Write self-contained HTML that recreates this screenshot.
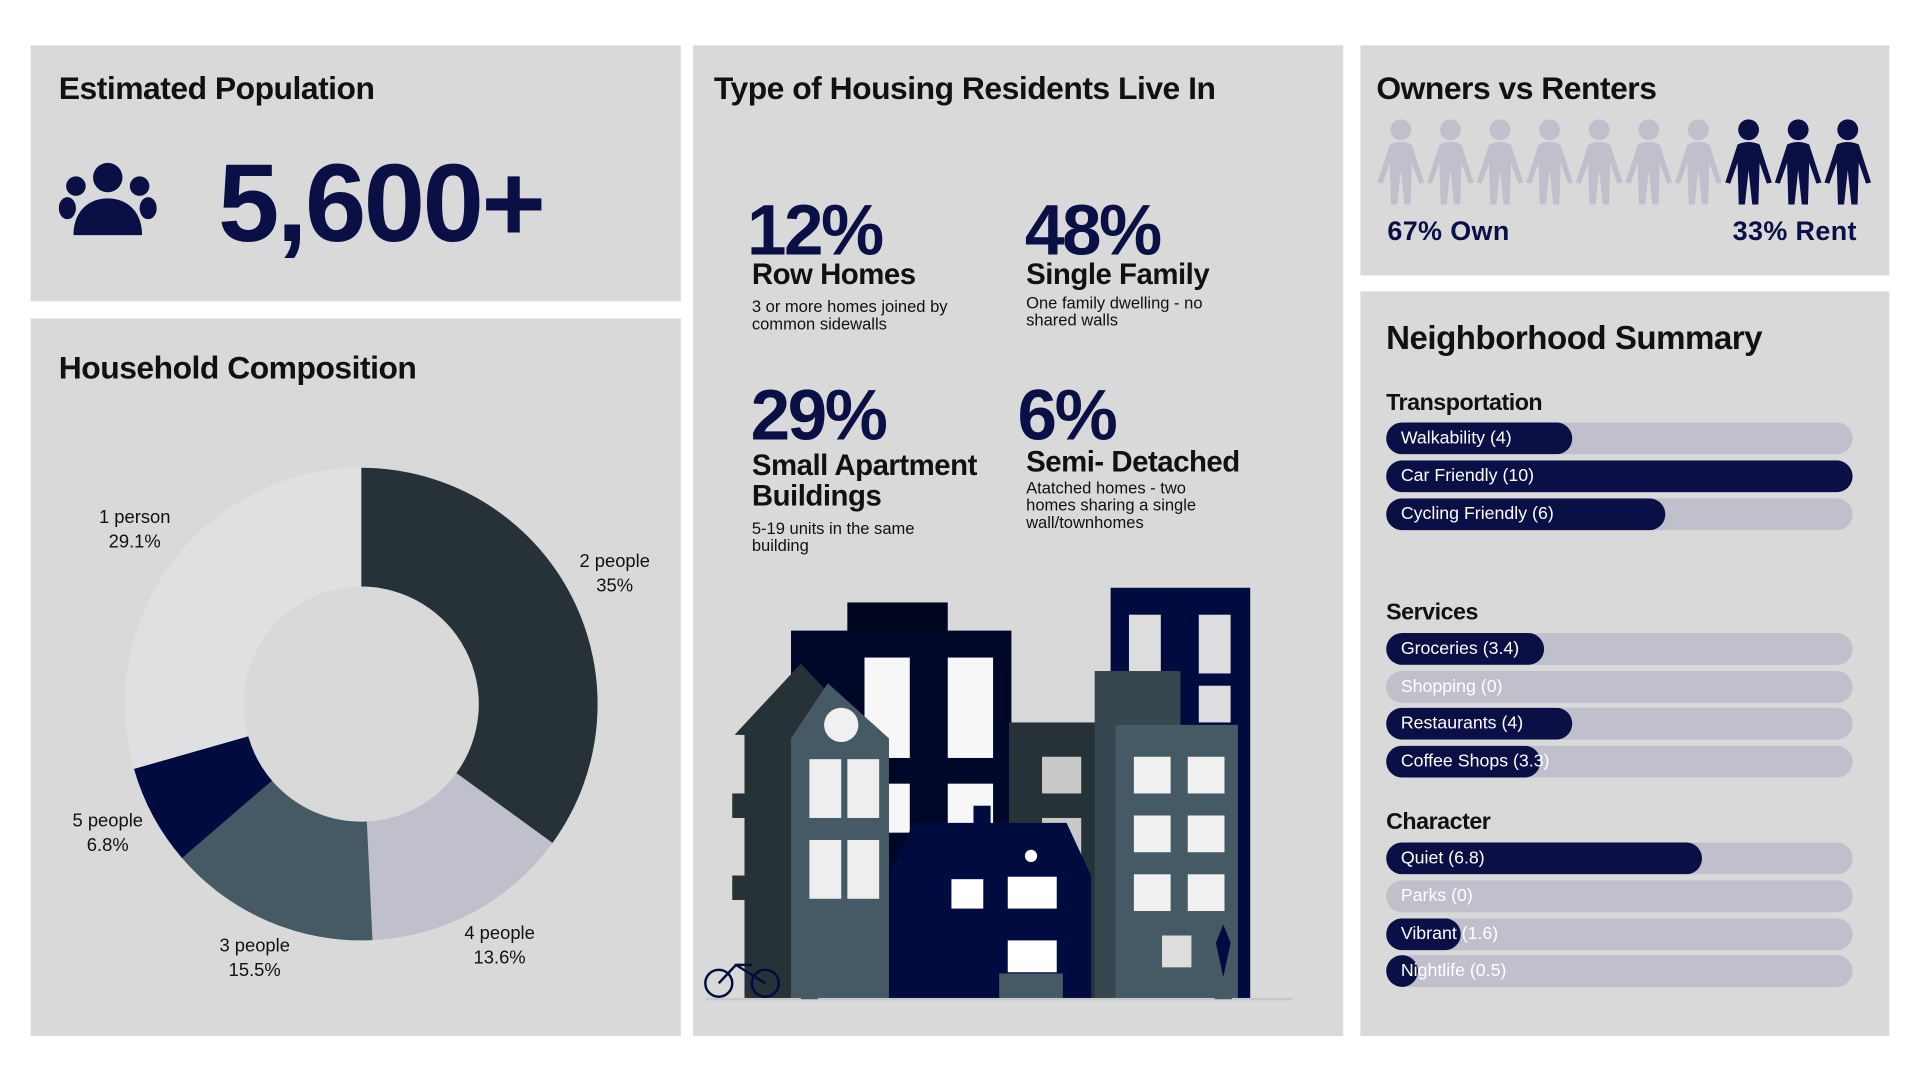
<!DOCTYPE html>
<html><head><meta charset="utf-8">
<style>
html,body{margin:0;padding:0;background:#fff;width:1920px;height:1080px;overflow:hidden}
#w{position:absolute;left:0;top:0;width:1568px;height:882px;transform:scale(1.22449);transform-origin:0 0;font-family:"Liberation Sans",sans-serif}
.p{position:absolute;background:#d9d9d9}
.t{position:absolute;font-weight:bold;color:#111;white-space:nowrap;letter-spacing:-0.4px}
.n{position:absolute;font-weight:bold;color:#0a0f45;white-space:nowrap;letter-spacing:-2px}
.s{position:absolute;font-size:13.5px;line-height:14px;color:#111}
.bar{position:absolute;left:1132px;width:381px;height:26px;border-radius:13px;background:#c0bfcc;overflow:hidden}
.bar i{position:absolute;left:0;top:0;bottom:0;background:#0a0f45;border-radius:13px}
.bar span{position:absolute;left:12px;top:5px;font-size:14.5px;color:#fff;white-space:nowrap}
.lbl{position:absolute;font-size:15px;color:#111;text-align:center;line-height:20px}
</style></head><body><div id="w">
<div class="p" style="left:25px;top:37px;width:531px;height:209px"></div>
<div class="p" style="left:25px;top:260px;width:531px;height:586px"></div>
<div class="p" style="left:566px;top:37px;width:531px;height:809px"></div>
<div class="p" style="left:1111px;top:37px;width:432px;height:188px"></div>
<div class="p" style="left:1111px;top:238px;width:432px;height:608px"></div>

<div class="t" style="left:48px;top:57px;font-size:26px">Estimated Population</div>
<svg style="position:absolute;left:48px;top:132px" width="80" height="64" viewBox="0 0 80 64">
<g fill="#0a0f45"><circle cx="40" cy="13" r="12"/><circle cx="14" cy="20" r="8"/><circle cx="66" cy="20" r="8"/>
<ellipse cx="7" cy="38" rx="7" ry="9"/><ellipse cx="73" cy="38" rx="7" ry="9"/>
<path d="M12 60 C12 40 25 30 40 30 C55 30 68 40 68 60 Z"/></g></svg>
<div class="n" style="left:178px;top:116px;font-size:90px">5,600+</div>

<div class="t" style="left:48px;top:285px;font-size:26px">Household Composition</div>
<svg style="position:absolute;left:0;top:0" width="560" height="850">
<g transform="translate(295,575)">
<path d="M0,-193 A193,193 0 0 1 156.2,113.4 L77.7,56.4 A96,96 0 0 0 0,-96Z" fill="#263238"/>
<path d="M156.2,113.4 A193,193 0 0 1 9.2,192.8 L4.6,95.9 A96,96 0 0 0 77.7,56.4Z" fill="#c0bfcc"/>
<path d="M9.2,192.8 A193,193 0 0 1 -146.3,125.8 L-72.8,62.6 A96,96 0 0 0 4.6,95.9Z" fill="#455a64"/>
<path d="M-146.3,125.8 A193,193 0 0 1 -185.6,52.9 L-92.3,26.3 A96,96 0 0 0 -72.8,62.6Z" fill="#000b3f"/>
<path d="M-185.6,52.9 A193,193 0 0 1 0,-193 L0,-96 A96,96 0 0 0 -92.3,26.3Z" fill="#e0e0e3"/>
</g></svg>
<div class="lbl" style="left:70px;top:413px;width:80px">1 person<br>29.1%</div>
<div class="lbl" style="left:462px;top:449px;width:80px">2 people<br>35%</div>
<div class="lbl" style="left:48px;top:661px;width:80px">5 people<br>6.8%</div>
<div class="lbl" style="left:168px;top:763px;width:80px">3 people<br>15.5%</div>
<div class="lbl" style="left:368px;top:753px;width:80px">4 people<br>13.6%</div>

<div class="t" style="left:583px;top:57px;font-size:26px">Type of Housing Residents Live In</div>
<div class="n" style="left:610px;top:155px;font-size:58px">12%</div>
<div class="t" style="left:614px;top:211px;font-size:24px">Row Homes</div>
<div class="s" style="left:614px;top:244px">3 or more homes joined by<br>common sidewalls</div>
<div class="n" style="left:837px;top:155px;font-size:58px">48%</div>
<div class="t" style="left:838px;top:211px;font-size:24px">Single Family</div>
<div class="s" style="left:838px;top:241px">One family dwelling - no<br>shared walls</div>
<div class="n" style="left:613px;top:306px;font-size:58px">29%</div>
<div class="t" style="left:614px;top:368px;font-size:24px;line-height:25px">Small Apartment<br>Buildings</div>
<div class="s" style="left:614px;top:425px">5-19 units in the same<br>building</div>
<div class="n" style="left:831px;top:306px;font-size:58px">6%</div>
<div class="t" style="left:838px;top:364px;font-size:24px">Semi- Detached</div>
<div class="s" style="left:838px;top:392px">Atatched homes - two<br>homes sharing a single<br>wall/townhomes</div>

<svg style="position:absolute;left:566px;top:470px" width="531" height="360">
<rect x="341" y="10" width="114" height="336" fill="#000b3f"/>
<rect x="356" y="32" width="26" height="48" fill="#ddd"/><rect x="413" y="32" width="26" height="48" fill="#ddd"/>
<rect x="413" y="90" width="26" height="30" fill="#ddd"/>
<rect x="126" y="22" width="82" height="30" fill="#00061f"/>
<rect x="80" y="45" width="180" height="301" fill="#00082a"/>
<rect x="140" y="67" width="37" height="82" fill="#f7f7f7"/><rect x="208" y="67" width="37" height="82" fill="#f7f7f7"/>
<rect x="140" y="170" width="37" height="40" fill="#f7f7f7"/><rect x="208" y="170" width="37" height="40" fill="#f7f7f7"/>
<rect x="258" y="120" width="90" height="226" fill="#263238"/>
<rect x="285" y="148" width="32" height="30" fill="#c8c8c8"/><rect x="285" y="198" width="32" height="30" fill="#c8c8c8"/>
<rect x="328" y="78" width="70" height="268" fill="#37474f"/>
<rect x="345" y="122" width="100" height="224" fill="#455a64"/>
<g fill="#f0f0f0"><rect x="360" y="148" width="30" height="30"/><rect x="404" y="148" width="30" height="30"/>
<rect x="360" y="196" width="30" height="30"/><rect x="404" y="196" width="30" height="30"/>
<rect x="360" y="244" width="30" height="30"/><rect x="404" y="244" width="30" height="30"/>
<rect x="383" y="294" width="24" height="26" fill="#ddd"/></g>
<polygon points="34,130 88,72 145,133" fill="#263238"/>
<rect x="42" y="130" width="42" height="216" fill="#263238"/>
<polygon points="80,133 110,88 160,133 160,346 80,346" fill="#455a64"/>
<circle cx="121" cy="122" r="14" fill="#f0f0f0"/>
<rect x="95" y="150" width="26" height="48" fill="#eee"/><rect x="126" y="150" width="26" height="48" fill="#eee"/>
<rect x="95" y="216" width="26" height="48" fill="#eee"/><rect x="126" y="216" width="26" height="48" fill="#eee"/>
<rect x="32" y="178" width="34" height="20" fill="#263238"/><rect x="32" y="245" width="34" height="20" fill="#263238"/>
<polygon points="160,245 180,202 305,202 325,245 325,346 160,346" fill="#000b3f"/>
<rect x="229" y="188" width="14" height="20" fill="#000b3f"/>
<circle cx="276" cy="229" r="5" fill="#fff"/>
<rect x="211" y="248" width="26" height="24" fill="#fff"/><rect x="257" y="246" width="40" height="26" fill="#fff"/>
<rect x="257" y="298" width="40" height="26" fill="#fff"/>
<rect x="250" y="325" width="52" height="21" fill="#455a64"/>
<rect x="10" y="345" width="480" height="2" fill="#c8c8c8"/>
<circle cx="21" cy="333" r="11" fill="none" stroke="#000b3f" stroke-width="2"/><circle cx="59" cy="333" r="11" fill="none" stroke="#000b3f" stroke-width="2"/>
<path d="M21 333 L35 318 L59 333 M35 318 L48 318" stroke="#000b3f" stroke-width="2" fill="none"/>
<rect x="88" y="328" width="14" height="18" fill="#455a64"/><rect x="426" y="328" width="14" height="18" fill="#455a64"/>
<path d="M433 328 L427 300 L433 285 L439 300Z" fill="#000b3f"/>
</svg>

<div class="t" style="left:1124px;top:57px;font-size:26px">Owners vs Renters</div>
<svg style="position:absolute;left:1124px;top:97px" width="408" height="70" viewBox="0 0 408 70">
<defs><g id="pp"><circle cx="20" cy="9" r="8.5"/><path d="M11 21 Q20 17 29 21 L39 52 L35 53 L29 36 L28 70 L23 70 L20 42 L17 70 L12 70 L11 36 L5 53 L1 52Z"/></g></defs>
<g fill="#c0bfcc"><use href="#pp" x="0"/><use href="#pp" x="40.5"/><use href="#pp" x="81"/><use href="#pp" x="121.5"/><use href="#pp" x="162"/><use href="#pp" x="202.5"/><use href="#pp" x="243"/></g>
<g fill="#0a0f45"><use href="#pp" x="284"/><use href="#pp" x="324.5"/><use href="#pp" x="365"/></g>
</svg>
<div class="n" style="left:1133px;top:176px;font-size:22px;letter-spacing:0.3px">67% Own</div>
<div class="n" style="left:1415px;top:176px;font-size:22px;letter-spacing:0.3px">33% Rent</div>

<div class="t" style="left:1132px;top:261px;font-size:27px">Neighborhood Summary</div>
<div class="t" style="left:1132px;top:319px;font-size:19px">Transportation</div>
<div class="bar" style="top:345px"><i style="width:152px"></i><span>Walkability (4)</span></div>
<div class="bar" style="top:376px"><i style="width:381px"></i><span>Car Friendly (10)</span></div>
<div class="bar" style="top:407px"><i style="width:228px"></i><span>Cycling Friendly (6)</span></div>
<div class="t" style="left:1132px;top:490px;font-size:19px">Services</div>
<div class="bar" style="top:517px"><i style="width:129px"></i><span>Groceries (3.4)</span></div>
<div class="bar" style="top:548px"><span>Shopping (0)</span></div>
<div class="bar" style="top:578px"><i style="width:152px"></i><span>Restaurants (4)</span></div>
<div class="bar" style="top:609px"><i style="width:126px"></i><span>Coffee Shops (3.3)</span></div>
<div class="t" style="left:1132px;top:661px;font-size:19px">Character</div>
<div class="bar" style="top:688px"><i style="width:258px"></i><span>Quiet (6.8)</span></div>
<div class="bar" style="top:719px"><span>Parks (0)</span></div>
<div class="bar" style="top:750px"><i style="width:61px"></i><span>Vibrant (1.6)</span></div>
<div class="bar" style="top:780px"><i style="width:26px"></i><span>Nightlife (0.5)</span></div>
</div></body></html>
